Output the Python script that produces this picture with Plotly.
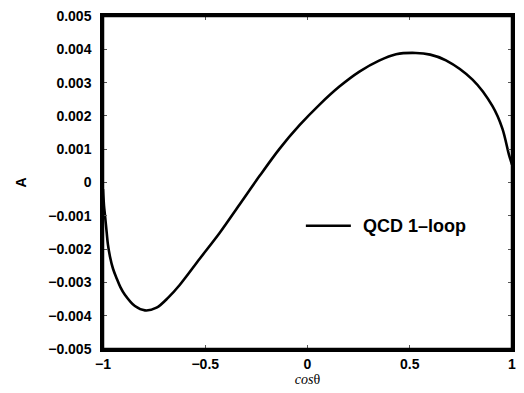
import plotly.graph_objects as go

cos_theta = [-1.0, -0.995, -0.990, -0.982, -0.976, -0.966, -0.951, -0.933, -0.915, -0.893,
             -0.844, -0.795, -0.738, -0.680, -0.624, -0.527, -0.429, -0.332, -0.234, -0.137,
             -0.039, 0.059, 0.156, 0.254, 0.350, 0.433, 0.530, 0.600, 0.677, 0.807,
             0.904, 0.953, 0.985, 1.0]
asym = [-0.0002, -0.0007, -0.0010, -0.0015, -0.00186, -0.00222, -0.00259, -0.00288, -0.00314, -0.00337,
        -0.00371, -0.00384, -0.00376, -0.00345, -0.00307, -0.00229, -0.00151, -0.00066, 0.0002, 0.00101,
        0.00172, 0.00234, 0.00288, 0.00333, 0.00366, 0.00385, 0.00389, 0.00384, 0.00367, 0.00309,
        0.0023, 0.00162, 0.00084, 0.00054]

series_name = "QCD 1\u2013loop"
x_ticks = [-1, -0.5, 0, 0.5, 1]
x_tick_text = ["\u22121", "\u22120.5", "0", "0.5", "1"]
y_ticks = [0.005, 0.004, 0.003, 0.002, 0.001, 0, -0.001, -0.002, -0.003, -0.004, -0.005]
y_tick_text = ["0.005", "0.004", "0.003", "0.002", "0.001", "0",
               "\u22120.001", "\u22120.002", "\u22120.003", "\u22120.004", "\u22120.005"]

fig = go.Figure()
fig.add_trace(go.Scatter(x=cos_theta, y=asym, mode="lines", name=series_name,
                         line=dict(color="black", width=2.6, shape="spline", smoothing=0.9),
                         showlegend=False))

# plot frame
fig.add_shape(type="rect", xref="paper", yref="paper", x0=0, x1=1, y0=0, y1=1,
              line=dict(color="black", width=2.5), layer="above")

# legend drawn as a line sample + label
fig.add_shape(type="line", xref="paper", yref="paper", x0=0.496, x1=0.606, y0=0.37, y1=0.37,
              line=dict(color="black", width=2.6))
fig.add_annotation(xref="paper", yref="paper", x=0.63, y=0.37, xanchor="left", yanchor="middle",
                   text="<b>" + series_name + "</b>", showarrow=False,
                   font=dict(family="Liberation Sans", size=18, color="black"))

tickfont = dict(family="Liberation Sans", size=14, color="black")
fig.update_layout(
    width=524, height=393,
    margin=dict(l=103, r=11, t=8, b=44),
    paper_bgcolor="white", plot_bgcolor="white",
    xaxis=dict(range=[-1, 1], tickvals=x_ticks, ticktext=["<b>%s</b>" % t for t in x_tick_text],
               ticks="inside", ticklen=4,
               tickwidth=1, tickcolor="#555", showgrid=False, zeroline=False, showline=True,
               linecolor="black", linewidth=2.5, mirror="ticks", tickfont=tickfont,
               title=dict(text="<i>cos</i>\u03b8", font=dict(family="Liberation Serif", size=14, color="black"),
                          standoff=2)),
    yaxis=dict(range=[-0.005, 0.005], tickvals=y_ticks, ticktext=["<b>%s</b>" % t for t in y_tick_text],
               ticks="inside", ticklen=4,
               tickwidth=1, tickcolor="#555", showgrid=False, zeroline=False, showline=True,
               linecolor="black", linewidth=2.5, mirror="ticks", tickfont=tickfont,
               ticklabelstandoff=6,
               title=dict(text="<b>A</b>", font=dict(family="Liberation Sans", size=14, color="black"),
                          standoff=19)),
)

fig.write_html("out.html", config={"displayModeBar": False},
               post_script="document.body.style.margin='0';document.body.style.overflow='hidden';")
